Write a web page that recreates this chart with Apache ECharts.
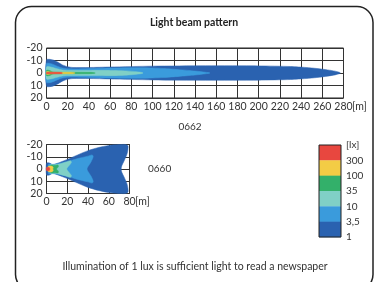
<!DOCTYPE html>
<html>
<head>
<meta charset="utf-8">
<script src="https://cdn.jsdelivr.net/npm/echarts@6/dist/echarts.min.js"></script>
<style>
html,body{margin:0;padding:0;background:#fff;}
#c{width:377px;height:282px;}
</style>
</head>
<body>
<div id="c"></div>
<script>
// ---------- data ----------
const chartTitle = 'Light beam pattern';
const footnote = 'Illumination of 1 lux is sufficient light to read a newspaper';
const lampTop = '0662';
const lampBottom = '0660';
const distUnit = '[m]';

const xTicksTop = [0, 20, 40, 60, 80, 100, 120, 140, 160, 180, 200, 220, 240, 260, 280];
const xTicksBottom = [0, 20, 40, 60, 80];
const yTicks = [-20, -10, 0, 10, 20];

const luxLevels = ['1', '3,5', '10', '35', '100', '300'];
const luxColors = ['#2a62b0', '#3a9bdc', '#80d0c6', '#33b06a', '#f3cc45', '#e8473f'];

// Upper-half outlines [distance m, lateral m]; the lower half is mirrored.
// Lamp 0662
const beam0662_1lx   = [[0,-10.5],[6,-10.5],[10,-9],[15,-6.5],[20,-5],[25,-4.4],[40,-4.4],[60,-4.8],[100,-5.5],[150,-5.8],[200,-5.7],[230,-5.2],[245,-4.4],[255,-3.6],[265,-2.5],[272,-1.5],[276,-0.6],[277,0]];
const beam0662_3_5lx = [[0,-7.5],[5,-7.3],[10,-5.5],[15,-4],[20,-3.4],[30,-3.3],[60,-4],[90,-4.2],[110,-3.6],[125,-2.7],[140,-1.6],[150,-0.6],[154,0]];
const beam0662_10lx  = [[0,-4.8],[5,-4.6],[10,-3.4],[15,-2.4],[20,-2],[40,-2],[60,-2.1],[75,-1.7],[85,-1],[90,-0.4],[91,0]];
const beam0662_35lx  = [[0,-2.2],[3,-2],[6,-0.8],[10,-0.6],[40,-0.55],[45,-0.3],[46,0]];
const beam0662_100lx = [[0,-1],[3,-0.9],[6,-0.55],[25,-0.5],[27,0]];
const beam0662_300lx = [[0,-0.5],[14,-0.5],[15,0]];

// Lamp 0660
const beam0660_1lx   = [[0,-4.8],[3,-4.8],[6,-3.4],[10,-4.5],[20,-7.8],[30,-11.5],[40,-15],[50,-17.5],[60,-19.2],[70,-19.9],[76,-20],[78.5,-19],[78.5,-16],[77.5,-12],[75,-7],[72.5,-2.5],[72,0]];
const beam0660_3_5lx = [[2,-4],[6,-3.8],[10,-4.2],[20,-6],[30,-8.5],[40,-10.5],[44,-11.5],[45,-10],[43,-6],[40,-2],[39,0]];
const beam0660_10lx  = [[4,-3.5],[8,-3.5],[12,-4],[18,-5.5],[23,-6.8],[24,-5.5],[22,-3],[20,-1],[19.5,0]];
const beam0660_35lx  = [[4,-3],[8,-3],[11,-3.3],[11.5,-2],[10,-0.5],[9.5,0]];
const beam0660_100lx = [[1.5,-2],[5.5,-2.2],[6.5,-1],[6,0]];
const beam0660_300lx = [[0,-1.3],[2.5,-1.3],[3.2,-0.6],[3,0]];

const beams0662 = [beam0662_1lx, beam0662_3_5lx, beam0662_10lx, beam0662_35lx, beam0662_100lx, beam0662_300lx];
const beams0660 = [beam0660_1lx, beam0660_3_5lx, beam0660_10lx, beam0660_35lx, beam0660_100lx, beam0660_300lx];

// ---------- chart ----------
const FONT = 'Lato, "Noto Sans", sans-serif';
const TXT = '#333';

function outline(half) {
  const low = half.slice().reverse().filter(p => p[1] !== 0).map(p => [p[0], -p[1]]);
  return half.concat(low);
}

function beamSeries(beams, gi) {
  return beams.map((half, i) => {
    const pts = outline(half);
    return {
      type: 'custom',
      coordinateSystem: 'cartesian2d',
      xAxisIndex: gi, yAxisIndex: gi,
      silent: true,
      data: [[0, 0]],
      renderItem: function (params, api) {
        return {
          type: 'polygon',
          shape: { points: pts.map(p => api.coord(p)), smooth: 0.25 },
          style: { fill: luxColors[i], stroke: luxColors[i], lineWidth: 0.5 }
        };
      }
    };
  });
}

function xAxisCfg(gi, ticks) {
  return {
    type: 'value', gridIndex: gi,
    min: ticks[0], max: ticks[ticks.length - 1], interval: ticks[1] - ticks[0],
    axisLine: { show: false }, axisTick: { show: false },
    axisLabel: { fontFamily: FONT, fontSize: 10.5, color: TXT, margin: 3 },
    splitLine: { show: true, lineStyle: { color: '#333', width: 1 } }
  };
}
function yAxisCfg(gi) {
  return {
    type: 'value', gridIndex: gi, inverse: true,
    min: yTicks[0], max: yTicks[yTicks.length - 1], interval: yTicks[1] - yTicks[0],
    axisLine: { show: false }, axisTick: { show: false },
    axisLabel: { fontFamily: FONT, fontSize: 10.5, color: TXT, margin: 4 },
    splitLine: { show: true, lineStyle: { color: '#333', width: 1 } }
  };
}

// legend graphics
const legX = 319, legY = 145, legW = 22, legH = 92;
const step = legH / luxLevels.length;
const legendEls = [];
for (let i = 0; i < luxLevels.length; i++) {
  const idx = luxLevels.length - 1 - i; // top = highest
  legendEls.push({ type: 'rect', shape: { x: legX, y: legY + i * step, width: legW, height: step + 0.3 }, style: { fill: luxColors[idx] } });
}
legendEls.push({ type: 'rect', shape: { x: legX, y: legY, width: legW, height: legH }, style: { fill: 'none', stroke: '#222', lineWidth: 1 } });
const legLabels = ['[lx]'].concat(luxLevels.slice().reverse());
legLabels.forEach((t, i) => {
  legendEls.push({ type: 'text', x: legX + 27, y: legY + i * step, style: { text: t, font: '10px ' + FONT, fill: TXT, verticalAlign: 'middle' } });
});

const chart = echarts.init(document.getElementById('c'), null, { renderer: 'canvas' });
const baseGraphic = [
  { type: 'rect', shape: { x: 15.5, y: 6.5, width: 357.5, height: 284, r: 16 }, style: { fill: 'none', stroke: '#222', lineWidth: 1.5 }, silent: true },
  { type: 'text', x: 194, y: 23, style: { text: chartTitle, font: 'bold 10.5px ' + FONT, fill: '#222', align: 'center', verticalAlign: 'middle' } },
  { type: 'text', x: 190, y: 127, style: { text: lampTop, font: '10px ' + FONT, fill: TXT, align: 'center', verticalAlign: 'middle' } },
  { type: 'text', x: 148, y: 169, style: { text: lampBottom, font: '10px ' + FONT, fill: TXT, align: 'left', verticalAlign: 'middle' } },
  { type: 'text', x: 195, y: 267, style: { text: footnote, font: '10.5px ' + FONT, fill: TXT, align: 'center', verticalAlign: 'middle' } }
].concat(legendEls);

chart.setOption({
  animation: false,
  backgroundColor: '#fff',
  grid: [
    { left: 46.5, top: 48, width: 297, height: 50, show: true, borderColor: '#222', borderWidth: 1, backgroundColor: 'transparent' },
    { left: 46.5, top: 144.5, width: 83, height: 49, show: true, borderColor: '#222', borderWidth: 1, backgroundColor: 'transparent' }
  ],
  xAxis: [xAxisCfg(0, xTicksTop), xAxisCfg(1, xTicksBottom)],
  yAxis: [yAxisCfg(0), yAxisCfg(1)],
  series: beamSeries(beams0662, 0).concat(beamSeries(beams0660, 1)),
  graphic: baseGraphic
});

// unit "[m]" placed right after the last distance tick label of each chart
const unitEls = [[xTicksTop, 0], [xTicksBottom, 1]].map(([ticks, gi]) => {
  const last = ticks[ticks.length - 1];
  const p = chart.convertToPixel({ gridIndex: gi }, [last, yTicks[yTicks.length - 1]]);
  const w = echarts.format.getTextRect ? 0 : 0;
  const half = String(last).length * 2.9;
  return { type: 'text', x: p[0] + half, y: p[1] + 3, style: { text: distUnit, font: '10.5px ' + FONT, fill: TXT, align: 'left', verticalAlign: 'top' } };
});
chart.setOption({ graphic: baseGraphic.concat(unitEls) });
</script>
</body>
</html>
